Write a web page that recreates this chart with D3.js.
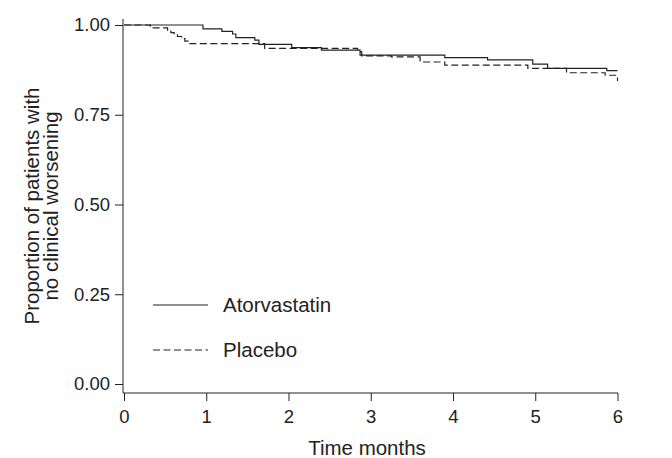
<!DOCTYPE html>
<html>
<head>
<meta charset="utf-8">
<script src="https://cdn.jsdelivr.net/npm/d3@7"></script>
<style>
  body { margin: 0; background: #fff; }
  svg text { font-family: "Liberation Sans", Arial, sans-serif; fill: #222; }
</style>
</head>
<body>
<div id="chart"></div>
<script>
// Kaplan-Meier estimates
var atorvastatinTime = [0, 0.96, 1.19, 1.32, 1.36, 1.59, 1.64, 2.04, 2.40, 2.87, 3.90, 4.42, 4.97, 5.15, 5.87, 6.0];
var atorvastatinSurv = [1, 0.989, 0.982, 0.975, 0.965, 0.958, 0.946, 0.937, 0.930, 0.916, 0.909, 0.903, 0.891, 0.879, 0.873, 0.873];
var placeboTime = [0, 0.32, 0.53, 0.57, 0.61, 0.65, 0.70, 0.74, 0.78, 1.71, 2.84, 2.89, 3.25, 3.60, 3.90, 4.91, 5.38, 5.85, 6.0];
var placeboSurv = [1, 0.992, 0.985, 0.979, 0.973, 0.968, 0.962, 0.955, 0.948, 0.935, 0.926, 0.914, 0.911, 0.897, 0.888, 0.879, 0.867, 0.860, 0.844];
var xTicks = [0, 1, 2, 3, 4, 5, 6];
var yTicks = [0, 0.25, 0.5, 0.75, 1];
var seriesNames = ['Atorvastatin', 'Placebo'];

var width = 672, height = 458;
var svg = d3.select('#chart').append('svg').attr('width', width).attr('height', height);

var x = d3.scaleLinear().domain([0, 6]).range([124, 617.5]);
var y = d3.scaleLinear().domain([0, 1]).range([384, 25]);
var axisX = 123, axisY = 393;

// axes
var yAxis = d3.axisLeft(y).tickValues(yTicks).tickFormat(d3.format('.2f')).tickSizeOuter(0).tickSize(8).tickPadding(5);
var gy = svg.append('g').attr('transform', 'translate(' + axisX + ',0)').call(yAxis);
gy.select('.domain').remove();
gy.selectAll('text').style('font-size', '18.5px').attr('fill', '#222');
gy.selectAll('line').attr('stroke', '#222');

var xAxis = d3.axisBottom(x).tickValues(xTicks).tickFormat(d3.format('d')).tickSizeOuter(0).tickSize(8).tickPadding(9);
var gx = svg.append('g').attr('transform', 'translate(0,' + axisY + ')').call(xAxis);
gx.select('.domain').remove();
gx.selectAll('text').style('font-size', '18.5px').attr('fill', '#222');
gx.selectAll('line').attr('stroke', '#222');

svg.append('line').attr('x1', axisX).attr('x2', axisX).attr('y1', 19).attr('y2', axisY).attr('stroke', '#222');
svg.append('line').attr('x1', axisX).attr('x2', x(6) + 0.5).attr('y1', axisY).attr('y2', axisY).attr('stroke', '#222');

// titles
svg.append('text').attr('x', 367).attr('y', 455).attr('text-anchor', 'middle')
  .style('font-size', '20.5px').text('Time months');
var yt = svg.append('text').attr('transform', 'translate(0,' + 206 + ') rotate(-90)')
  .attr('text-anchor', 'middle').style('font-size', '20.5px');
yt.append('tspan').attr('x', 0).attr('y', 39).text('Proportion of patients with');
yt.append('tspan').attr('x', 0).attr('y', 58).text('no clinical worsening');

// curves
var line = d3.line().curve(d3.curveStepAfter).x(function(d) { return x(d[0]); }).y(function(d) { return y(d[1]); });
var atorData = d3.zip(atorvastatinTime, atorvastatinSurv);
var placData = d3.zip(placeboTime, placeboSurv);
svg.append('path').datum(atorData).attr('d', line).attr('fill', 'none').attr('stroke', '#222').attr('stroke-width', 1.2);
svg.append('path').datum(placData).attr('d', line).attr('fill', 'none').attr('stroke', '#222').attr('stroke-width', 1.2)
  .attr('stroke-dasharray', '7,3.5');

// legend
var dashes = [null, '7,3.5'];
var legend = svg.selectAll('.legend').data(seriesNames).enter().append('g').attr('class', 'legend')
  .attr('transform', function(d, i) { return 'translate(153,' + (305 + i * 45) + ')'; });
legend.append('line').attr('x1', 0).attr('x2', 55).attr('y1', 0).attr('y2', 0).attr('stroke', '#222').attr('stroke-width', 1.2)
  .attr('stroke-dasharray', function(d, i) { return dashes[i]; });
legend.append('text').attr('x', 70).attr('y', 7).style('font-size', '20.5px').text(function(d) { return d; });
</script>
</body>
</html>
